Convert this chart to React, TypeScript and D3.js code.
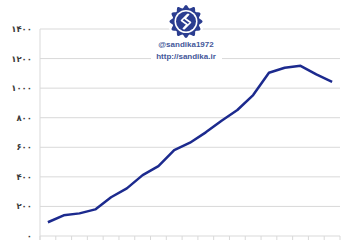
import React from "react";
import * as d3 from "d3";

const categories = Array.from({ length: 19 }, (_, i) => String(i + 1));
const values = [93, 140, 153, 180, 262, 322, 412, 473, 581, 631, 701, 780, 852, 953, 1104, 1138, 1151, 1093, 1043];
const yTicks = [0, 200, 400, 600, 800, 1000, 1200, 1400];
const handle = "@sandika1972";
const site = "http://sandika.ir";

const toFa = (n: number) => String(n).replace(/\d/g, (d) => "۰۱۲۳۴۵۶۷۸۹"[+d]);

export default function App() {
  const W = 360, H = 240;
  const left = 40, right = 340, top = 29, bottom = 236;
  const x = d3.scaleBand().domain(categories).range([left, right]);
  const y = d3.scaleLinear().domain([0, 1400]).range([bottom, top]);
  const line = d3.line<number>()
    .x((_, i) => (x(categories[i]) as number) + x.bandwidth() / 2)
    .y((d) => y(d));

  // logo gear
  const cx = 186, cy = 21.5;
  const nPts = 96;
  const gearPts: [number, number][] = d3.range(nPts).map((i) => {
    const a = (i / nPts) * Math.PI * 2;
    const r = 15 + 1.6 * Math.cos(a * 12);
    return [a, r];
  });
  const gear = d3.lineRadial().curve(d3.curveLinearClosed)(gearPts) || "";

  return (
    <svg width={W} height={H} style={{ position: "absolute", left: 0, top: 0 }}>
      <rect width={W} height={H} fill="#fff" />
      {yTicks.map((t) => (
        <line key={t} x1={left} x2={right} y1={y(t)} y2={y(t)} stroke="#d9d9d9" strokeWidth={1} />
      ))}
      <line x1={left} x2={left} y1={top} y2={bottom + 4} stroke="#d9d9d9" />
      {categories.map((c) => (
        <line key={c} x1={x(c)} x2={x(c)} y1={bottom} y2={bottom + 4} stroke="#d9d9d9" />
      ))}
      <line x1={right} x2={right} y1={bottom} y2={bottom + 4} stroke="#d9d9d9" />
      {yTicks.map((t) => (
        <text key={t} x={32} y={y(t)} dy="0.35em" textAnchor="end" fontFamily="DejaVu Sans" fontWeight="bold" fontSize={8.5} fill="#3a3a3a">
          {toFa(t)}
        </text>
      ))}
      <path d={line(values) || ""} fill="none" stroke="#1c2a8e" strokeWidth={2.5} strokeLinejoin="round" />
      {/* logo */}
      <circle cx={cx} cy={cy} r={18.5} fill="#fff" />
      <rect x={151} y={39} width={71} height={23} fill="#fff" />
      <g transform={`translate(${cx},${cy})`}>
        <path d={gear} fill="#2b3d90" />
        <circle r={11.5} fill="#fff" />
        <circle r={10} fill="#2b3d90" />
        <path d="M2,-7.5 L-4.5,-1 L1,3 L-3,7.5 M-2,7.5 L4.5,1 L-1,-3 L3,-7.5" fill="none" stroke="#fff" strokeWidth={1.6} strokeLinejoin="round" />
      </g>
      <text x={cx} y={47} textAnchor="middle" fontFamily="Liberation Sans" fontWeight="bold" fontSize={8} fill="#44579a">{handle}</text>
      <text x={cx} y={59.3} textAnchor="middle" fontFamily="Liberation Sans" fontWeight="bold" fontSize={8} fill="#44579a">{site}</text>
    </svg>
  );
}
